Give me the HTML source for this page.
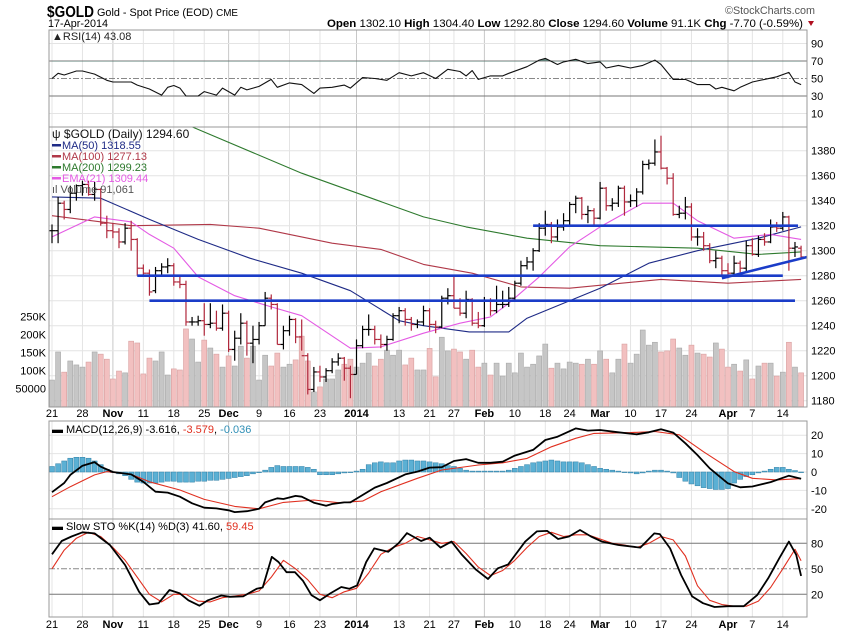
<!DOCTYPE html>
<html><head><meta charset="utf-8"><title>$GOLD chart</title>
<style>
body{margin:0;background:#fff;}
svg{display:block;font-family:"Liberation Sans",sans-serif;}
</style></head>
<body>
<svg id="chart" width="850" height="633" viewBox="0 0 850 633" xmlns="http://www.w3.org/2000/svg">
<defs>
<clipPath id="clipMain"><rect x="49" y="127" width="758" height="280"/></clipPath>
<clipPath id="clipRsiHi"><rect x="49" y="30" width="758" height="31.5"/></clipPath>
</defs>
<g>
<text x="47" y="17" font-size="16" font-weight="bold" textLength="47" lengthAdjust="spacingAndGlyphs">$GOLD</text>
<text x="97" y="16" font-size="11" textLength="141" lengthAdjust="spacingAndGlyphs">Gold - Spot Price (EOD) <tspan font-size="10">CME</tspan></text>
<text x="48" y="27" font-size="11" textLength="60" lengthAdjust="spacingAndGlyphs">17-Apr-2014</text>
<text x="725" y="14" font-size="11" fill="#555" textLength="90" lengthAdjust="spacingAndGlyphs">©StockCharts.com</text>
<text x="327" y="27" font-size="11" textLength="476" lengthAdjust="spacingAndGlyphs"><tspan font-weight="bold">Open</tspan> 1302.10 <tspan font-weight="bold">High</tspan> 1304.40 <tspan font-weight="bold">Low</tspan> 1292.80 <tspan font-weight="bold">Close</tspan> 1294.60 <tspan font-weight="bold">Volume</tspan> 91.1K <tspan font-weight="bold">Chg</tspan> -7.70 (-0.59%)</text>
<polygon points="808,21 814,21 811,26" fill="#b01020"/>
</g>
<g id="grid"></g>
<g id="marks"></g>
<g id="frames"></g>
<g id="labels"></g>
</svg>
<script>
// ---------- data ----------
const dateLabels = ["21","28","Nov","11","18","25","Dec","9","16","23","2014","13","21","27","Feb","10","18","24","Mar","10","17","24","Apr","7","14"];
const dateLabelIdx = [0,5,10,15,20,25,29,34,39,44,50,57,62,66,71,76,81,85,90,95,100,105,111,115,120];
const monthLabels = ["Nov","Dec","2014","Feb","Mar","Apr"];
const openP = [1316,1316,1338,1333,1346,1352,1353,1345,1349,1322,1316,1315,1307,1318,1309,1286,1282,1268,1284,1287,1288,1275,1273,1243,1243,1244,1241,1242,1238,1250,1221,1230,1242,1226,1229,1240,1262,1257,1225,1236,1245,1231,1216,1189,1203,1199,1204,1211,1214,1206,1201,1224,1237,1237,1229,1225,1229,1248,1252,1245,1241,1243,1252,1241,1239,1262,1264,1254,1250,1261,1242,1240,1260,1252,1257,1257,1262,1274,1288,1291,1300,1318,1321,1311,1319,1324,1337,1342,1329,1332,1326,1350,1336,1338,1350,1339,1340,1347,1369,1370,1379,1366,1358,1329,1330,1335,1311,1311,1304,1292,1294,1284,1282,1290,1286,1304,1297,1309,1307,1319,1318,1327,1302,1302];
const highP = [1321,1343,1340,1352,1353,1356,1356,1355,1350,1328,1322,1318,1322,1324,1310,1289,1285,1287,1290,1294,1290,1280,1276,1247,1248,1258,1258,1252,1257,1252,1236,1250,1244,1240,1243,1267,1265,1258,1240,1248,1246,1245,1218,1207,1208,1206,1214,1218,1215,1208,1229,1240,1249,1240,1233,1232,1250,1255,1254,1247,1245,1256,1254,1244,1264,1270,1280,1262,1268,1262,1251,1263,1262,1272,1268,1271,1276,1292,1295,1302,1322,1332,1323,1325,1330,1339,1344,1343,1336,1334,1355,1351,1342,1352,1352,1345,1350,1372,1373,1389,1392,1367,1362,1336,1343,1338,1318,1315,1306,1300,1296,1290,1296,1292,1308,1310,1312,1314,1325,1323,1331,1328,1307,1304];
const lowP = [1306,1306,1325,1330,1340,1344,1344,1340,1320,1310,1310,1302,1305,1300,1280,1279,1264,1266,1280,1282,1272,1270,1240,1240,1240,1232,1238,1236,1236,1219,1212,1225,1216,1210,1225,1240,1253,1225,1221,1232,1226,1220,1185,1187,1195,1195,1202,1208,1196,1182,1201,1222,1232,1225,1222,1220,1228,1242,1240,1236,1238,1240,1236,1234,1238,1257,1254,1248,1246,1240,1238,1239,1248,1250,1254,1255,1260,1272,1285,1284,1299,1312,1306,1308,1316,1320,1330,1325,1322,1320,1325,1332,1332,1335,1328,1335,1335,1345,1365,1368,1365,1353,1328,1326,1325,1308,1304,1300,1290,1286,1280,1278,1280,1282,1283,1296,1295,1304,1306,1315,1316,1284,1295,1293];
const closeP = [1316,1338,1333,1346,1352,1353,1345,1349,1322,1316,1315,1307,1318,1309,1286,1282,1267,1284,1287,1288,1275,1273,1243,1243,1244,1241,1242,1238,1250,1221,1230,1242,1226,1229,1240,1262,1257,1225,1236,1245,1231,1216,1189,1203,1199,1204,1211,1214,1206,1201,1224,1237,1237,1229,1225,1229,1248,1252,1245,1241,1243,1252,1241,1239,1262,1264,1254,1250,1261,1242,1240,1260,1252,1257,1257,1262,1274,1288,1291,1300,1318,1321,1311,1319,1324,1337,1342,1329,1332,1326,1350,1336,1338,1350,1339,1340,1347,1369,1370,1379,1366,1358,1329,1330,1335,1311,1311,1304,1292,1294,1284,1282,1290,1286,1304,1297,1309,1307,1319,1318,1327,1302,1303,1295];
const volumeK = [74,152,96,127,116,110,124,152,146,132,77,99,94,182,177,91,135,127,152,88,105,102,216,188,124,185,163,146,110,141,113,168,135,168,74,143,113,149,110,118,130,196,127,41,55,77,77,102,118,132,110,121,149,113,132,157,143,157,116,135,102,102,162,83,193,155,160,152,132,157,110,121,88,121,85,121,94,149,110,118,141,174,107,121,105,124,121,118,132,118,155,132,94,132,174,121,146,213,171,179,152,155,188,163,143,171,149,146,138,177,160,110,118,99,130,77,113,121,121,85,96,179,110,94];
const ma50Idx = [0,8,16,24,32.5,41,49,57,61,68.5,75,78,90,98,106,116,123];
const ma50Val = [1343,1342,1325,1309,1294,1282,1268,1244,1240,1235,1235,1246,1270,1290,1300,1310,1319];
const ma100Idx = [0,13,26,34,46,54,61,69,77,85,100,111,123];
const ma100Val = [1328,1320,1321,1318,1306,1301,1289,1282,1271,1270,1277,1274,1277];
const ma200Idx = [0,23,41,61,68,78,90,106,116,123];
const ma200Val = [1440,1399,1362,1327,1319,1310,1304,1302,1297,1299];
const ema21Idx = [0,7,13,16,20,24,30,36,41,49,54,61,67,72,75,80,85,90,97,102,106,112,118,123];
const ema21Val = [1311,1327,1323,1313,1302,1279,1264,1255,1248,1222,1223,1234,1242,1247,1258,1279,1303,1319,1338,1338,1324,1310,1313,1309];
const rsiIdx = [0,1,2,4,5,7,9,10,13,14,16,18,19,20,21,22,24,25,27,28,30,31,32,34,36,37,39,41,43,44,46,48,49,51,53,55,57,59,61,63,65,67,68,69,70,72,74,75,78,80,81,83,84,86,88,90,91,93,95,97,99,100,102,104,106,108,109,110,112,113,115,117,119,121,122,123];
const rsiVal = [50,56,54,58.6,58.6,55,48,46,46,42.5,38,31,40,42,39,30,30,35,31,39,31,40,37,41,49,40,45,43,33,39,40,42.5,39,51,50,48,56.6,53,56.6,50,60.5,58,53,59,49,53,53,56,63.5,71,73,66,69,72,67,69,62,65,62,65,71,66,49,49,43,43,38,40,36,40,46,49,52,57,46,43.08];
const macdIdx = [0,2,3,5,7,8,10,13,15,17,19,21,23,25,27,29,30,32,34,35,37,38,40,41,43,45,46,48,49,51,53,55,58,60,62,64,66,68,70,72,74,76,79,81,83,86,88,90,93,96,98,100,102,104,106,108,111,113,115,118,121,123];
const macdVal = [-11,-6,-1.6,3.4,5.4,2.9,0,-1.3,-5.3,-10.7,-11.2,-13.4,-17,-19.4,-19.8,-20.8,-21.8,-21.3,-20,-16.5,-14.3,-14.7,-13,-13.4,-16.7,-18.3,-17.4,-16.5,-16.5,-12.5,-8.5,-6,-1.3,0.2,2.4,2.6,6,7,5,5,5.6,8.9,12,17.4,19.2,23.7,22.5,22.8,21.6,20.5,21.6,23.2,21.4,15.6,9.2,2,-6.2,-8.3,-7.9,-5.5,-2,-3.616];
const signalIdx = [0,3,7,9,13,16,21,25,30,34,38,43,47,51,54,60,64,70,74,78,82,86,89,95,99,103,107,112,115,119,123];
const signalVal = [-13.4,-8,-1.6,0.2,-1.3,-5.3,-9.8,-14.9,-18.7,-20,-16.5,-15.2,-16.7,-15.8,-10.7,-3.4,1.1,3.8,5,7.4,13.7,18.3,21,21.4,22,20.2,11,0.2,-3.4,-4.3,-3.579];
const histVal = [3,4.5,6,7.5,8,8,7.5,6,4,1.5, 0,-1,-2,-4,-5.5,-6, -6,-6,-5.5,-5,-5,-5.5,-5.5,-5.5,-5,-5,-4.5,-4.5,-4, -3.5,-3,-2.5,-2,-1,0,1, 2.5,3.5,3,3,3,3,2.5,1.5, -1.5,-1.5,-1.5,-1,-0.5,0,0.5, 1.5,4,5,5.5,5,5,6, 6.5,6.5,6,6,5.5,5,4.5,3.5,3, 2,1,0.5,0.5,0.5,0.5,0.5, 0.5,1,2,3,4,5,5.5, 6,6.5,6,5.5,5.5,5.5,5,4,3, 2,1.5,1,0.5,0,-0.5,-1, -0.5,0.5,1,1,0.5,-0.5,-3, -5,-6.5,-7.5,-8.5,-9,-9.5,-9.5,-9, -6,-4,-2.5,-1.5,-0.5, 0.5,1.5,2.5,2.5,1.5,0.8,0];
const stoKIdx = [0,1.6,3.2,5,7,9.5,12,14.3,16,17.5,19.3,21,22.4,24.2,25.6,27.8,29.2,31.4,33.6,34.6,36.1,37.2,38.5,39.9,41.2,42.6,44,45.7,47.5,48.8,50.1,51.6,52.9,55.2,56.9,58.3,60.6,62,63.8,65.6,67.3,69.6,71.6,73.2,74.9,77.7,79.6,81.3,83.1,84.9,86.7,88.5,90.3,93,96.6,98.9,99.8,101.5,103.3,105.1,106.9,108.8,111,113.6,115.8,117.6,119.4,121,122.2,123];
const stoKVal = [67,82.7,88,93,91.6,78,54.5,23,8,9.5,25,21,13,6.6,13,18.6,17,17.5,26.5,28,64,58,46,46,36,19,13,21,28.6,26.5,30.5,58,74,70,80,92,82.7,86.6,74.9,82,66.5,49,38,50.6,55,82,94,94.6,85,88,95.6,88,82,78,74.9,91.6,90.8,74,42.7,17.5,9.5,5,6,6,19,38.8,62,82,66.5,41.6];
const stoDIdx = [0,2,4,6,8,10,12,14,16,18,20,22,24,26,28,30,32,34,36,38,40,42,44,46,48,50,52,54,56,58,60,62,64,66,68,70,72,74,76,78,80,82,84,86,88,90,92,94,96,98,100,102,104,106,108,110,112,114,116,118,120,122,123];
const stoDVal = [50,72,86,93,88,75,60,40,20,11,20,20,12,11,16,18,20,24,40,60,50,37,20,16,23,27,45,67,75,80,88,84,80,82,68,52,42,48,60,75,88,93,88,90,90,85,80,78,75,80,88,84,65,30,13,8,6,6,12,28,50,73,59.45];
const rsiTicks = [90,70,50,30,10];
const priceTicks = [1180,1200,1220,1240,1260,1280,1300,1320,1340,1360,1380];
const volTicks = [250,200,150,100,50];
const volTickLabels = ["250K","200K","150K","100K","50000"];
const macdTicks = [20,10,0,-10,-20];
const stoTicks = [80,50,20];
const supportLevels = [1280,1260,1320];
const supportStartIdx = [14,16,79];
const supportEndIdx = [120,122,122.5];
const trendIdx = [110,124];
const trendVal = [1278,1295];

// ---------- scales ----------
const L=49,R=807;
const xi=i=>52+i*6.09;
const py=p=>150.7+(1380-p)*1.25;
const vy=v=>406.7-v*0.36;
const ry=r=>78.5-(r-50)*0.875;
const my=m=>472-m*1.84;
const sy=s=>543.3-(s-80)*0.85;
const NS="http://www.w3.org/2000/svg";
function mk(tag,attrs,parent){const e=document.createElementNS(NS,tag);for(const k in attrs)e.setAttribute(k,attrs[k]);parent.appendChild(e);return e;}
const grid=document.getElementById('grid'),marks=document.getElementById('marks'),frames=document.getElementById('frames'),labels=document.getElementById('labels');
const panels=[[30,127],[127,407],[421,519],[519,617]];

dateLabelIdx.forEach((d,k)=>{
  const isMonth=monthLabels.includes(dateLabels[k]);
  panels.forEach(p=>{
    const ln=mk('line',{x1:xi(d),x2:xi(d),y1:p[0],y2:p[1],stroke:isMonth?'#c8c8c8':'#e4e4e4','stroke-width':1},grid);
    
    
  });
  [413,624].forEach(y=>{
    const t=mk('text',{x:xi(d),y:y+4,'font-size':11,'text-anchor':'middle','font-weight':isMonth?'bold':'normal'},labels);
    t.textContent=dateLabels[k];
    
    
  });
});
function hTick(y,label,x,gridColor,dash){
  const ln=mk('line',{x1:L,x2:R,y1:y,y2:y,stroke:gridColor,'stroke-width':1},grid);
  if(dash)ln.setAttribute('stroke-dasharray',dash);
  
  
  const t=mk('text',{x:x,y:y+4,'font-size':11},labels);
  t.textContent=label;
  
  
}
rsiTicks.forEach(v=>{const line=(v===70||v===30)?'#777':(v===50?'#888':'#e4e4e4');hTick(ry(v),v,811,line,v===50?'6,2,2,2':null);});
priceTicks.forEach(v=>hTick(py(v),v,811,'#e4e4e4',null));
macdTicks.forEach(v=>hTick(my(v),v,811,'#e4e4e4',null));
stoTicks.forEach(v=>hTick(sy(v),v,811,v===50?'#888':'#777',v===50?'6,2,2,2':null));
volTicks.forEach((v,k)=>{
  const t=mk('text',{x:46,y:vy(v)+4,'font-size':11,'text-anchor':'end'},labels);
  t.textContent=volTickLabels[k];
  
  
});

const mainG=mk('g',{'clip-path':'url(#clipMain)'},marks);


volumeK.forEach((v,i)=>{
  const down=closeP[i]<openP[i];
  const r=mk('rect',{x:xi(i)-2.5,y:vy(v),width:5,height:406.7-vy(v),fill:down?'#f2c0c0':'#c6c6c6',stroke:down?'#d8a0a0':'#a8a8a8','stroke-width':0.6},mainG);
  
  
});
function poly(idx,val,yf,color,w,parent,name){
  const pts=idx.map((d,k)=>xi(d).toFixed(1)+','+yf(val[k]).toFixed(1)).join(' ');
  const p=mk('polyline',{points:pts,fill:'none',stroke:color,'stroke-width':w,'stroke-linejoin':'round'},parent);
  
  
  return p;
}
poly(ma200Idx,ma200Val,py,'#2e7a2e',1.1,mainG,'ma200-line');
poly(ma100Idx,ma100Val,py,'#b03848',1.1,mainG,'ma100-line');
poly(ma50Idx,ma50Val,py,'#1e2a86',1.1,mainG,'ma50-line');
poly(ema21Idx,ema21Val,py,'#e45ae4',1.1,mainG,'ema21-line');
closeP.forEach((c,i)=>{
  const col=c<openP[i]?'#b0283c':'#000';
  const g=mk('g',{stroke:col,'stroke-width':1.2},mainG);
  
  
  const x=xi(i);
  mk('line',{x1:x,x2:x,y1:py(highP[i]),y2:py(lowP[i])},g);
  mk('line',{x1:x-3,x2:x,y1:py(openP[i]),y2:py(openP[i])},g);
  mk('line',{x1:x,x2:x+3,y1:py(c),y2:py(c)},g);
});
supportLevels.forEach((lv,k)=>{
  const l=mk('line',{x1:xi(supportStartIdx[k]),x2:xi(supportEndIdx[k]),y1:py(lv),y2:py(lv),stroke:'#1a3cc8','stroke-width':2.6},mainG);
  
  
});
const tl=mk('line',{x1:xi(trendIdx[0]),x2:xi(trendIdx[1]),y1:py(trendVal[0]),y2:py(trendVal[1]),stroke:'#1a3cc8','stroke-width':2.6},marks);



const rsiPts=rsiIdx.map((d,k)=>xi(d).toFixed(1)+','+ry(rsiVal[k]).toFixed(1));
const fill=mk('polygon',{points:xi(rsiIdx[0])+','+ry(70)+' '+rsiPts.join(' ')+' '+xi(rsiIdx[rsiIdx.length-1])+','+ry(70),fill:'#5f8078','clip-path':'url(#clipRsiHi)'},marks);


poly(rsiIdx,rsiVal,ry,'#111',1.1,marks,'rsi-line');

histVal.forEach((h,i)=>{
  const y0=my(0),y1=my(h);
  const r=mk('rect',{x:xi(i)-2.5,y:Math.min(y0,y1),width:5,height:Math.max(0.6,Math.abs(y1-y0)),fill:'#5bb0d4',stroke:'#2f7fa6','stroke-width':0.5},marks);
  
  
});
poly(signalIdx,signalVal,my,'#e03020',1.1,marks,'macd-signal-line');
poly(macdIdx,macdVal,my,'#000',1.8,marks,'macd-line');

poly(stoDIdx,stoDVal,sy,'#e03020',1.1,marks,'sto-d-line');
poly(stoKIdx,stoKVal,sy,'#000',1.8,marks,'sto-k-line');

panels.forEach(p=>{
  const r=mk('rect',{x:L,y:p[0],width:R-L,height:p[1]-p[0],fill:'none',stroke:'#999','stroke-width':1},frames);
  
  
});

function legend(x,y,text,color,swatch,name,size){
  if(swatch){const s=mk('rect',{x:x,y:y-5,width:9,height:2.5,fill:swatch},labels);
    
    }
  const t=mk('text',{x:swatch?x+10:x,y:y,'font-size':size||11,fill:color},labels);
  t.textContent=text;
  
  
}
legend(52,40,'▲RSI(14) 43.08','#222',null,'rsi-legend',11);
legend(52,138,'ψ $GOLD (Daily) 1294.60','#111',null,'price-legend',12);
legend(52,149,'MA(50) 1318.55','#1e2a86','#1e2a86','ma50-legend',11);
legend(52,160,'MA(100) 1277.13','#b03848','#b03848','ma100-legend',11);
legend(52,171,'MA(200) 1299.23','#2e7a2e','#2e7a2e','ma200-legend',11);
legend(52,182,'EMA(21) 1309.44','#e45ae4','#e45ae4','ema21-legend',11);
legend(52,193,'ıl Volume 91,061','#555',null,'volume-legend',11);
const ml=mk('text',{x:52,y:433,'font-size':11},labels);
ml.innerHTML='<tspan>▬ MACD(12,26,9) -3.616, </tspan><tspan fill="#e03020">-3.579</tspan><tspan>, </tspan><tspan fill="#2f8fb6">-0.036</tspan>';


const sl=mk('text',{x:52,y:530,'font-size':11},labels);
sl.innerHTML='<tspan>▬ Slow STO %K(14) %D(3) 41.60, </tspan><tspan fill="#e03020">59.45</tspan>';


</script>
</body></html>
